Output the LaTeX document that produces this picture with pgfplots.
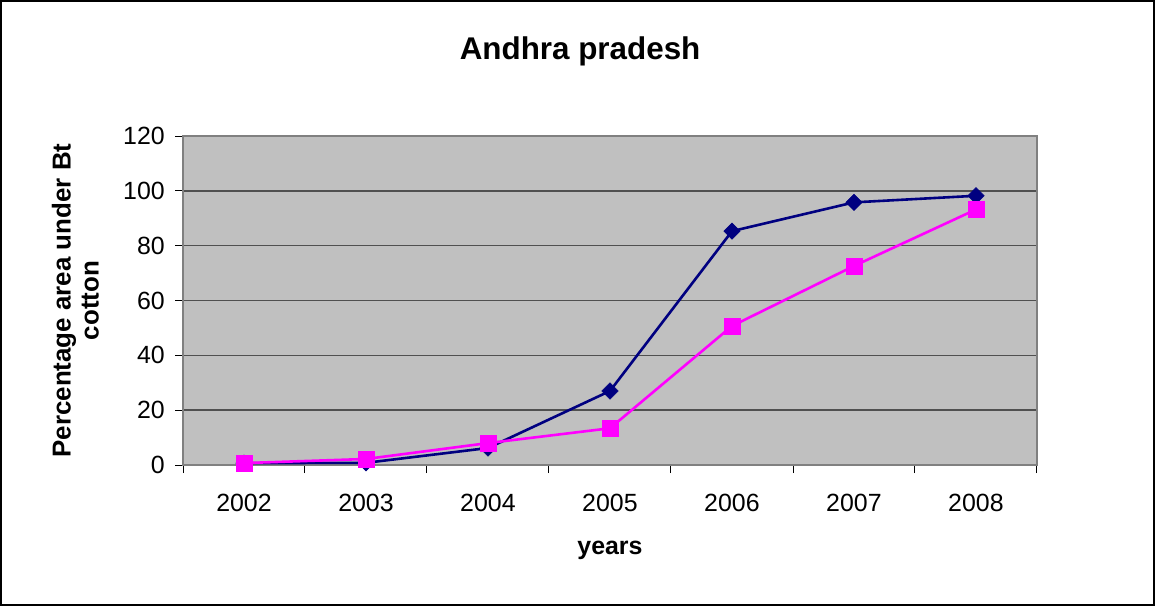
\documentclass[border=0pt]{standalone}
\usepackage{pgfplots}
\pgfplotsset{compat=1.18}
\usepackage{fontspec}
\setmainfont{Liberation Sans}
\definecolor{plotbg}{HTML}{C0C0C0}
\definecolor{gridc}{HTML}{505050}
\definecolor{navyc}{HTML}{000080}
\definecolor{magc}{HTML}{FF00FF}
\definecolor{framec}{HTML}{808080}
\begin{document}
\begin{tikzpicture}
\path[use as bounding box] (0,0) rectangle (1155bp,-606bp);
\draw[line width=1.6bp, black] (1bp,-1bp) rectangle (1154bp,-605bp);
\begin{axis}[
  at={(183bp,-465bp)}, anchor=south west,
  scale only axis, width=854bp, height=329bp,
  xmin=2001.5, xmax=2008.5, ymin=0, ymax=120,
  xtick={2002,...,2008},
  xticklabels={2002,2003,2004,2005,2006,2007,2008},
  minor xtick={2001.5,2002.5,...,2008.5},
  ytick={0,20,...,120},
  xtick pos=bottom, ytick pos=left,
  major x tick style={draw=none},
  minor x tick style={draw=black, line width=1bp},
  y tick style={draw=black, line width=1bp},
  tick align=outside,
  major tick length=8bp, minor tick length=8bp,
  axis background/.style={fill=plotbg},
  axis line style={draw=framec, line width=1.8bp},
  ymajorgrids,
  grid style={draw=gridc, line width=1.4bp},
  /pgf/number format/assume math mode=true,
  tick label style={font=\fontsize{25}{30}\selectfont, black},
  xticklabel style={inner sep=0pt, yshift=-21bp},
  yticklabel style={inner sep=0pt, xshift=-10bp},
  title={Andhra pradesh},
  title style={font=\bfseries\fontsize{31.5}{36}\selectfont, at={(axis description cs:0.465,1.24)}, anchor=center},
  xlabel={years},
  xlabel style={font=\bfseries\fontsize{25}{30}\selectfont, at={(axis description cs:0.5,-0.26)}, anchor=center},
  ylabel={Percentage area under Bt\\cotton},
  ylabel style={font=\bfseries\fontsize{26}{28}\selectfont, align=center, at={(axis description cs:-0.126,0.5)}, anchor=center},
  clip=false,
]
\addplot[color=navyc, line width=2.6bp, mark=square*, mark size=5.8bp, mark options={rotate=45, fill=navyc, draw=navyc, line width=0.5bp}]
 coordinates {(2002,0.7) (2003,0.8) (2004,6.2) (2005,27) (2006,85.3) (2007,95.8) (2008,98.2)};
\addplot[color=magc, line width=2.6bp, mark=square*, mark size=8bp, mark options={fill=magc, draw=magc, line width=0.5bp}]
 coordinates {(2002,0.7) (2003,2.2) (2004,8) (2005,13.4) (2006,50.7) (2007,72.6) (2008,93.2)};
\end{axis}
\end{tikzpicture}
\end{document}
